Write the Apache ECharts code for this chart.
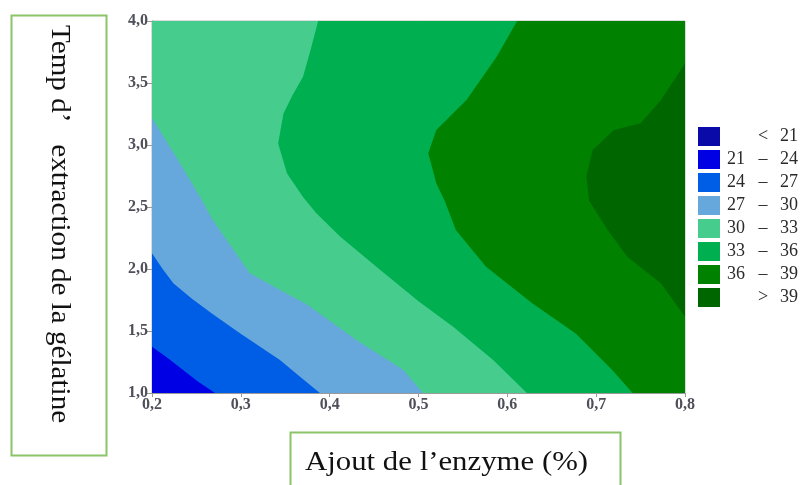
<!DOCTYPE html>
<html><head><meta charset="utf-8">
<script src="https://cdn.jsdelivr.net/npm/echarts@6/dist/echarts.min.js"></script>
<style>html,body{margin:0;padding:0;background:#fff}#c{width:801px;height:485px}</style>
</head><body><div id="c"></div>
<script>
// Legend levels
const levelNames = ['< 21', '21 – 24', '24 – 27', '27 – 30', '30 – 33', '33 – 36', '36 – 39', '> 39'];
const levelLow  = ['', '21', '24', '27', '30', '33', '36', ''];
const levelSym  = ['<', '–', '–', '–', '–', '–', '–', '>'];
const levelHigh = ['21', '24', '27', '30', '33', '36', '39', '39'];
const levelColors = ['#0a0aa8', '#0000e4', '#005ee6', '#66a8dc', '#46cd8e', '#00b050', '#008200', '#006600'];

// Axis ticks
const xTicks = [0.2, 0.3, 0.4, 0.5, 0.6, 0.7, 0.8];
const yTicks = [1.0, 1.5, 2.0, 2.5, 3.0, 3.5, 4.0];

// Contour boundaries (x = enzyme %, y = time)
const b21_24 = [[0.2,1.373],[0.218,1.28],[0.235,1.185],[0.252,1.09],[0.271,1.0]];
const b24_27 = [[0.2,2.127],[0.212,2.00],[0.224,1.885],[0.245,1.76],[0.267,1.643],[0.299,1.481],[0.344,1.266],[0.367,1.13],[0.389,1.0]];
const b27_30 = [[0.2,3.218],[0.230,2.87],[0.256,2.556],[0.268,2.40],[0.284,2.234],[0.310,1.965],[0.344,1.831],[0.374,1.715],[0.430,1.427],[0.483,1.185],[0.505,1.0]];
const b30_33 = [[0.387,4.0],[0.379,3.78],[0.370,3.55],[0.358,3.40],[0.348,3.255],[0.342,3.013],[0.352,2.771],[0.370,2.58],[0.385,2.45],[0.412,2.26],[0.457,1.992],[0.500,1.74],[0.539,1.535],[0.584,1.266],[0.622,1.0]];
const b33_36 = [[0.611,4.0],[0.588,3.712],[0.554,3.363],[0.520,3.121],[0.511,2.933],[0.520,2.691],[0.530,2.54],[0.542,2.315],[0.576,2.018],[0.628,1.723],[0.677,1.48],[0.718,1.185],[0.741,1.0]];
const b36_39 = [[0.8,3.657],[0.773,3.363],[0.750,3.175],[0.720,3.121],[0.696,2.96],[0.689,2.745],[0.692,2.55],[0.713,2.315],[0.735,2.099],[0.773,1.884],[0.8,1.615]];

// Plot extent corners
const xMin = 0.2, xMax = 0.8, yMin = 1.0, yMax = 4.0;

// Region polygons (area at or above each level)
const regions = [
  [],
  [[xMin,yMin],[xMax,yMin],[xMax,yMax],[xMin,yMax]],
  b21_24.concat([[xMax,yMin],[xMax,yMax],[xMin,yMax]]),
  b24_27.concat([[xMax,yMin],[xMax,yMax],[xMin,yMax]]),
  b27_30.concat([[xMax,yMin],[xMax,yMax],[xMin,yMax]]),
  b30_33.concat([[xMax,yMin],[xMax,yMax]]),
  b33_36.concat([[xMax,yMin],[xMax,yMax]]),
  b36_39.slice()
];

const fmt = v => v.toFixed(1).replace('.', ',');

const series = levelNames.map((name, i) => ({
  type: 'custom',
  name: name,
  coordinateSystem: 'cartesian2d',
  clip: true,
  silent: true,
  itemStyle: { color: levelColors[i] },
  data: regions[i].length ? [[0.5, 2.5]] : [],
  renderItem: function (params, api) {
    const pts = regions[i].map(p => api.coord(p));
    return { type: 'polygon', shape: { points: pts }, style: { fill: levelColors[i], stroke: null } };
  }
}));

const labelStyle = { fontFamily: 'Liberation Serif', fontSize: 16, fontWeight: 'bold', color: '#4f4f5a' };
const legendRich = (w, align) => ({ width: w, align: align, fontFamily: 'Liberation Serif', fontSize: 18, color: '#2a2a2a' });

const chart = echarts.init(document.getElementById('c'));
chart.setOption({
  animation: false,
  backgroundColor: '#fff',
  grid: { left: 152, right: 116, top: 21, bottom: 92, show: true, borderColor: '#b8b8b8', borderWidth: 1 },
  xAxis: {
    type: 'value', min: xMin, max: xMax, interval: 0.1,
    axisLine: { show: true, lineStyle: { color: '#9a9a9a' } },
    axisTick: { show: true, length: 4, lineStyle: { color: '#9a9a9a' } },
    splitLine: { show: false },
    axisLabel: Object.assign({ formatter: v => fmt(v), margin: 4 }, labelStyle)
  },
  yAxis: {
    type: 'value', min: yMin, max: yMax, interval: 0.5,
    axisLine: { show: true, lineStyle: { color: '#9a9a9a' } },
    axisTick: { show: true, length: 5, lineStyle: { color: '#9a9a9a' } },
    splitLine: { show: false },
    axisLabel: Object.assign({ formatter: v => fmt(v), margin: 4 }, labelStyle)
  },
  legend: {
    orient: 'vertical', left: 698, top: 127, padding: 0,
    itemWidth: 22, itemHeight: 19, itemGap: 4, icon: 'rect',
    selectedMode: false,
    data: levelNames,
    formatter: function (name) {
      const i = levelNames.indexOf(name);
      return '{a|' + levelLow[i] + '}{b|' + levelSym[i] + '}{c|' + levelHigh[i] + '}';
    },
    textStyle: {
      fontFamily: 'Liberation Serif', fontSize: 18, color: '#2a2a2a', padding: [0, 0, 0, 0],
      rich: { a: legendRich(22, 'right'), b: legendRich(32, 'center'), c: legendRich(19, 'right') }
    }
  },
  graphic: [
    { type: 'rect', left: 9, top: 13, shape: { width: 95, height: 440 }, style: { fill: 'none', stroke: '#8cc46a', lineWidth: 2 } },
    { type: 'text', x: 59, y: 25, rotation: -Math.PI / 2, scaleX: 1.04,
      style: { text: 'Temp d’   extraction de la gélatine', fontFamily: 'Liberation Serif', fontSize: 28, fill: '#111', textAlign: 'left', textVerticalAlign: 'middle' } },
    { type: 'rect', left: 288, top: 430, shape: { width: 330, height: 60 }, style: { fill: 'none', stroke: '#8cc46a', lineWidth: 2 } },
    { type: 'text', x: 305, y: 463, scaleX: 1.1,
      style: { text: 'Ajout de l’enzyme (%)', fontFamily: 'Liberation Serif', fontSize: 28, fill: '#111', textAlign: 'left', textVerticalAlign: 'middle' } }
  ],
  series: series
});
</script></body></html>
